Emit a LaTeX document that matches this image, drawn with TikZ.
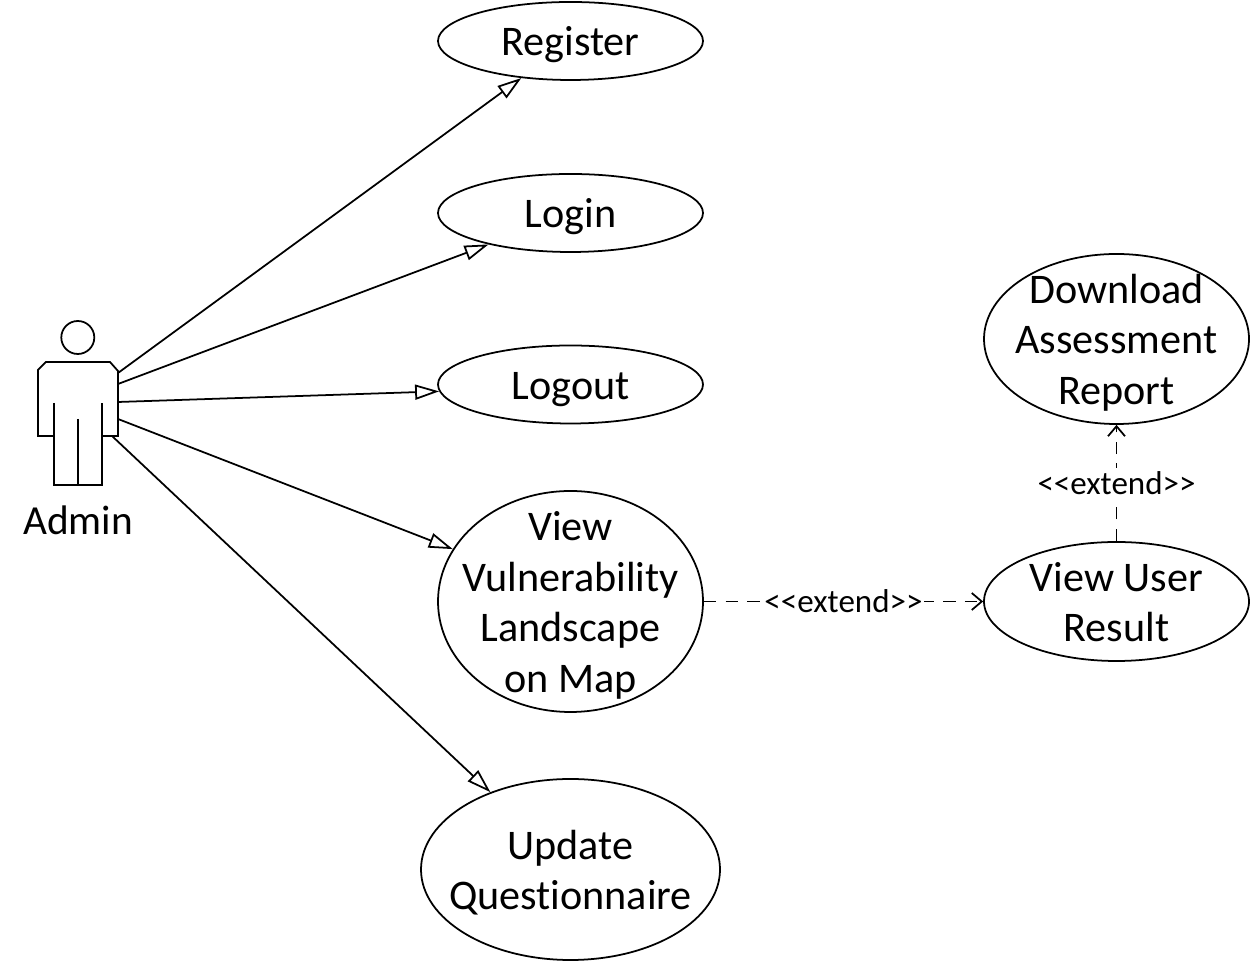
\documentclass[tikz,border=0pt]{standalone}
\usepackage{fontspec}
\setmainfont[Ligatures={NoCommon}]{Carlito}
\newfontfamily\extendfont[Ligatures={NoCommon}]{Carlito}
\usetikzlibrary{shapes.geometric, arrows.meta}
\newcommand{\casetop}{\rule{0pt}{0.77cm}}
\tikzset{
  usecase/.style={ellipse, draw=black, fill=white, align=center, inner sep=-1.5cm,
    font=\fontsize{24}{28.7}\selectfont, line width=1pt,
    execute at end node={\rule[-0.17cm]{0pt}{0.17cm}}},
  shortcase/.style={usecase, minimum width=5.3cm, minimum height=1.56cm,
    execute at begin node={\rule{0pt}{0.77cm}}},
  actorname/.style={font=\fontsize{23.5}{28.7}\selectfont, inner sep=0pt},
  assoc/.style={-{Triangle[open, length=0.48cm, width=0.3cm, fill=white]}, line width=1pt, color=black},
  extendarrow/.style={-{Straight Barb[length=0.2cm, width=0.34cm]}, line width=1pt, color=black,
    dash pattern=on 0.25cm off 0.185cm},
  extendlabel/.style={fill=white, inner xsep=1pt, inner ysep=2pt, font=\extendfont\fontsize{18.8}{22}\selectfont}
}

\begin{document}
\begin{tikzpicture}
  \useasboundingbox (0,0) rectangle (25,19.26);
  % Actor
  \draw[line width=1pt] (1.556,12.51) circle (0.33);
  \draw[line width=1pt] (1.08,10.54)--(0.76,10.54)--(0.76,11.86)--(0.92,12.02)--(2.2,12.02)--(2.36,11.84)--(2.36,10.54)--(2.04,10.54);
  \draw[line width=1pt] (1.08,11.2)--(1.08,9.56)--(2.04,9.56)--(2.04,11.2);
  \draw[line width=1pt] (1.56,10.88)--(1.56,9.56);
  \node[actorname] (admin) at (1.56,8.86) {Admin};
  \coordinate (a1) at (2.36,11.8);
  \coordinate (a2) at (2.36,11.58);
  \coordinate (a3) at (2.36,11.22);
  \coordinate (a4) at (2.36,10.88);
  \coordinate (a5) at (2.24,10.54);
  % Use cases
  \node[shortcase] (register) at (11.41,18.44) {Register};
  \node[shortcase] (login) at (11.41,15.0) {Login};
  \node[shortcase] (logout) at (11.41,11.57) {Logout};
  \node[usecase, minimum width=5.3cm, minimum height=4.42cm] (viewmap) at (11.41,7.23) {\casetop View\\Vulnerability\\Landscape\\on Map};
  \node[usecase, minimum width=5.98cm, minimum height=3.62cm] (update) at (11.41,1.87) {\casetop Update\\Questionnaire};
  \node[usecase, minimum width=5.3cm, minimum height=2.38cm] (viewuser) at (22.33,7.23) {\casetop View User\\Result};
  \node[usecase, minimum width=5.3cm, minimum height=3.4cm] (download) at (22.33,12.48) {\casetop Download\\Assessment\\Report};
  % Associations
  \draw[assoc] (a1)--(register.217);
  \draw[assoc] (a2)--(login.201);
  \draw[assoc] (a3)--(logout.183);
  \draw[assoc] (a4)--(viewmap.156);
  \draw[assoc] (a5)--(update.136.5);
  % Extends
  \draw[extendarrow] (viewmap.east)--(viewuser.west) node[midway, extendlabel] (ext1) {<<extend>>};
  \draw[extendarrow] (viewuser.north)--(download.south) node[midway, extendlabel] (ext2) {<<extend>>};
\end{tikzpicture}
\end{document}
